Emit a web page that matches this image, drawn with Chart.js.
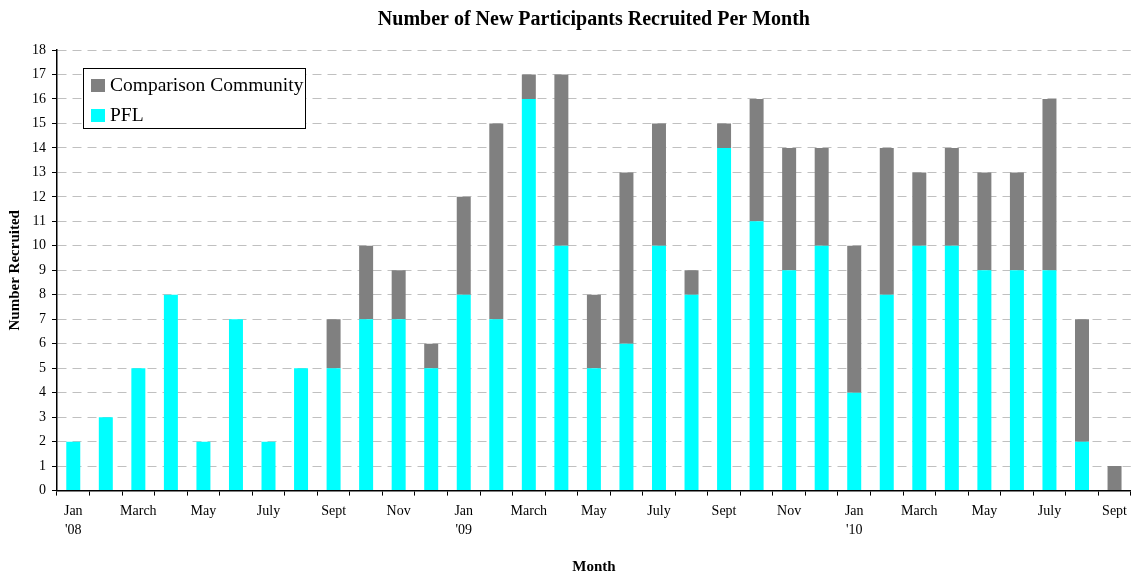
<!DOCTYPE html>
<html>
<head>
<meta charset="utf-8">
<script src="https://cdn.jsdelivr.net/npm/chart.js@4.4.0/dist/chart.umd.min.js"></script>
<style>
    html, body { margin: 0; padding: 0; background: #fff; }
    #wrap { width: 1134px; height: 576px; }
</style>
</head>
<body>
<div id="wrap"><canvas id="barChart"></canvas></div>
<script>
const months = [
    "Jan '08", "Feb '08", "Mar '08", "Apr '08", "May '08", "Jun '08",
    "Jul '08", "Aug '08", "Sep '08", "Oct '08", "Nov '08", "Dec '08",
    "Jan '09", "Feb '09", "Mar '09", "Apr '09", "May '09", "Jun '09",
    "Jul '09", "Aug '09", "Sep '09", "Oct '09", "Nov '09", "Dec '09",
    "Jan '10", "Feb '10", "Mar '10", "Apr '10", "May '10", "Jun '10",
    "Jul '10", "Aug '10", "Sep '10",
];

// shown under the axis, every other month
const tickLabels = [
    ["Jan", "'08"], "", "March", "", "May", "", "July", "", "Sept", "", "Nov", "",
    ["Jan", "'09"], "", "March", "", "May", "", "July", "", "Sept", "", "Nov", "",
    ["Jan", "'10"], "", "March", "", "May", "", "July", "", "Sept",
];

const pfl = [
    2, 3, 5, 8, 2, 7, 2, 5, 5, 7, 7, 5,
    8, 7, 16, 10, 5, 6, 10, 8, 14, 11, 9, 10,
    4, 8, 10, 10, 9, 9, 9, 2, 0,
];

const comparison = [
    0, 0, 0, 0, 0, 0, 0, 0, 2, 3, 2, 1,
    4, 8, 1, 7, 3, 7, 5, 1, 1, 5, 5, 4,
    6, 6, 3, 4, 4, 4, 7, 5, 1,
];

const serif = "'Liberation Serif', 'Times New Roman', serif";

const titlePlugin = {
    id: "centeredTitle",
    afterDraw(chart) {
        const { ctx, chartArea } = chart;
        ctx.save();
        ctx.font = `bold 20px ${serif}`;
        ctx.fillStyle = "#000";
        ctx.textAlign = "center";
        ctx.textBaseline = "middle";
        ctx.fillText(
            "Number of New Participants Recruited Per Month",
            (chartArea.left + chartArea.right) / 2,
            20
        );
        ctx.restore();
    },
};

// legend box floating inside the plot, top-left
const boxLegend = {
    id: "boxLegend",
    afterDraw(chart) {
        const { ctx, chartArea } = chart;
        const x = chartArea.left + 26;
        const y = chartArea.top + 18;
        const w = 222;
        const h = 60;
        ctx.save();
        ctx.fillStyle = "#fff";
        ctx.fillRect(x, y, w, h);
        ctx.strokeStyle = "#000";
        ctx.lineWidth = 1;
        ctx.strokeRect(x + 0.5, y + 0.5, w, h);
        ctx.font = `19.5px ${serif}`;
        ctx.textBaseline = "middle";
        const items = chart.data.datasets.slice().reverse();
        items.forEach((ds, i) => {
            const cy = y + 17 + i * 30;
            ctx.fillStyle = ds.backgroundColor;
            ctx.fillRect(x + 8, cy - 6, 14, 13);
            ctx.fillStyle = "#000";
            ctx.fillText(ds.label, x + 27, cy + 1);
        });
        ctx.restore();
    },
};

const ctx = document.getElementById("barChart").getContext("2d");
const barChart = new Chart(ctx, {
    type: "bar",
    data: {
        labels: months,
        datasets: [
            {
                label: "PFL",
                data: pfl,
                backgroundColor: "#00FFFF",
                barPercentage: 0.43,
                categoryPercentage: 1,
            },
            {
                label: "Comparison Community",
                data: comparison,
                backgroundColor: "#808080",
                barPercentage: 0.43,
                categoryPercentage: 1,
            },
        ],
    },
    options: {
        responsive: true,
        maintainAspectRatio: false,
        animation: false,
        layout: { padding: { top: 50, right: 1, bottom: 0, left: 0 } },
        plugins: {
            legend: { display: false },
            tooltip: { enabled: false },
        },
        scales: {
            x: {
                stacked: true,
                grid: {
                    offset: true,
                    drawOnChartArea: false,
                    color: "#000",
                    tickLength: 5,
                },
                border: { color: "#000", width: 1.5 },
                ticks: {
                    autoSkip: false,
                    maxRotation: 0,
                    padding: 7,
                    color: "#000",
                    font: { family: serif, size: 14, lineHeight: 1.3 },
                    callback: (value, index) => tickLabels[index],
                },
                title: {
                    display: true,
                    text: "Month",
                    color: "#000",
                    font: { family: serif, size: 15, weight: "bold" },
                    padding: { top: 12, bottom: 0 },
                },
            },
            y: {
                stacked: true,
                min: 0,
                max: 18,
                afterFit: (scale) => {
                    scale.width = 57;
                },
                grid: {
                    color: "#c0c0c0",
                    tickColor: "#000",
                    tickLength: 5,
                },
                border: { color: "#000", width: 1.5, dash: [9, 6] },
                ticks: {
                    stepSize: 1,
                    padding: 6,
                    color: "#000",
                    font: { family: serif, size: 14 },
                },
                title: {
                    display: true,
                    text: "Number Recruited",
                    color: "#000",
                    font: { family: serif, size: 15, weight: "bold" },
                    padding: { top: 6, bottom: 6 },
                },
            },
        },
    },
    plugins: [titlePlugin, boxLegend],
});
</script>
</body>
</html>
